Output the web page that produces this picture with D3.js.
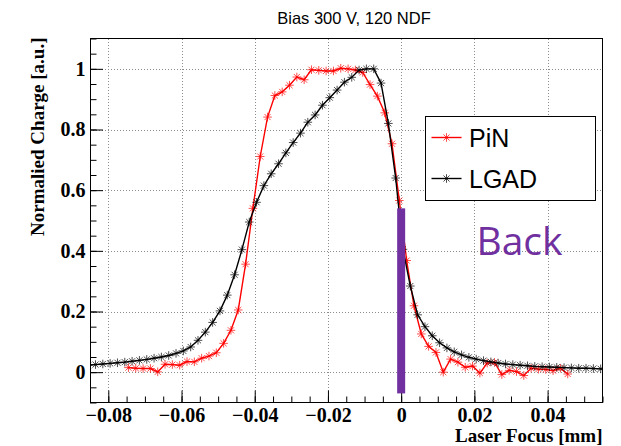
<!DOCTYPE html>
<html>
<head>
<meta charset="utf-8">
<script src="https://cdn.jsdelivr.net/npm/d3@7"></script>
<style>
  body { margin: 0; background: #fff; }
  svg { display: block; }
</style>
</head>
<body>
<div id="chart"></div>
<script>
const TITLE = "Bias 300 V, 120 NDF";
const X_LABEL = "Laser Focus [mm]";
const Y_LABEL = "Normalied Charge [a.u.]";
const X_TICKS = [-0.08, -0.06, -0.04, -0.02, 0, 0.02, 0.04];
const Y_TICKS = [0, 0.2, 0.4, 0.6, 0.8, 1];
const SERIES = ["PiN", "LGAD"];
const BACK_LABEL = "Back";
const BACK_BAR = [-0.07, 0.54]; // y extent of the marker bar drawn at x = 0

const pinX = [-0.0745, -0.0725, -0.0705, -0.0685, -0.0665, -0.0645, -0.0625, -0.0605, -0.0585, -0.0565,
  -0.0545, -0.0525, -0.0505, -0.0485, -0.0465, -0.0445, -0.0425, -0.0405, -0.0385, -0.0365,
  -0.0345, -0.0325, -0.0305, -0.0285, -0.0265, -0.0245, -0.0225, -0.0205, -0.0185, -0.0165,
  -0.0145, -0.0125, -0.0105, -0.0085, -0.0065, -0.0045, -0.0025, -0.0005, 0.0015, 0.0035,
  0.0055, 0.0075, 0.0095, 0.0115, 0.0135, 0.0155, 0.0175, 0.0195, 0.0215, 0.0235,
  0.0255, 0.0275, 0.0295, 0.0315, 0.0335, 0.0355, 0.0375, 0.0395, 0.0415, 0.0435, 0.0455];
const pinY = [0.015, 0.013, 0.012, 0.012, 0.001, 0.026, 0.025, 0.023, 0.035, 0.034,
  0.046, 0.053, 0.064, 0.095, 0.138, 0.205, 0.356, 0.540, 0.711, 0.841,
  0.912, 0.924, 0.946, 0.973, 0.964, 0.997, 0.995, 0.993, 0.993, 1.002,
  1.000, 0.996, 0.988, 0.948, 0.910, 0.855, 0.753, 0.566, 0.368, 0.219,
  0.126, 0.085, 0.065, 0.000, 0.043, 0.033, 0.016, 0.020, -0.003, 0.030,
  0.032, -0.008, 0.006, 0.002, -0.011, 0.013, 0.010, 0.009, 0.005, 0.013, -0.006];

const lgadX = [-0.0855, -0.0835, -0.0815, -0.0795, -0.0775, -0.0755, -0.0735, -0.0715, -0.0695, -0.0675,
  -0.0655, -0.0635, -0.0615, -0.0595, -0.0575, -0.0555, -0.0535, -0.0515, -0.0495, -0.0475,
  -0.0455, -0.0435, -0.0415, -0.0395, -0.0375, -0.0355, -0.0335, -0.0315, -0.0295, -0.0275,
  -0.0255, -0.0235, -0.0215, -0.0195, -0.0175, -0.0155, -0.0135, -0.0115, -0.0095, -0.0075,
  -0.0055, -0.0035, -0.0015, 0.0005, 0.0025, 0.0045, 0.0065, 0.0085, 0.0105, 0.0125,
  0.0145, 0.0165, 0.0185, 0.0205, 0.0225, 0.0245, 0.0265, 0.0285, 0.0305, 0.0325,
  0.0345, 0.0365, 0.0385, 0.0405, 0.0425, 0.0445, 0.0465, 0.0485, 0.0505, 0.0525,
  0.0545, 0.0565];
const lgadY = [0.023, 0.025, 0.027, 0.029, 0.031, 0.033, 0.036, 0.039, 0.042, 0.046,
  0.050, 0.055, 0.062, 0.070, 0.083, 0.105, 0.132, 0.164, 0.202, 0.254,
  0.321, 0.404, 0.495, 0.560, 0.615, 0.654, 0.687, 0.723, 0.757, 0.788,
  0.824, 0.848, 0.880, 0.905, 0.930, 0.956, 0.972, 0.996, 1.000, 1.000,
  0.953, 0.820, 0.640, 0.405, 0.284, 0.189, 0.150, 0.120, 0.097, 0.080,
  0.067, 0.057, 0.049, 0.043, 0.038, 0.034, 0.030, 0.027, 0.025, 0.023,
  0.021, 0.019, 0.018, 0.017, 0.016, 0.015, 0.014, 0.013, 0.013, 0.012,
  0.011, 0.010];

const W = 621, H = 446;
const margin = { top: 38.5, right: 18.5, bottom: 43.5, left: 90 };
const SERIF = "'Liberation Serif', 'Times New Roman', serif";
const SANS = "'Liberation Sans', Arial, Helvetica, sans-serif";
const PURPLE = "#7030a0";

const svg = d3.select("#chart").append("svg")
  .attr("width", W)
  .attr("height", H)
  .attr("viewBox", [0, 0, W, H]);

svg.append("rect").attr("width", W).attr("height", H).attr("fill", "#fff");

const x = d3.scaleLinear().domain([-0.085, 0.055]).range([margin.left, W - margin.right]);
const y = d3.scaleLinear().domain([-0.1, 1.1]).range([H - margin.bottom, margin.top]);
const [x0, x1] = x.range();
const [y0, y1] = y.range();

// dotted grid at the major ticks
const grid = svg.append("g")
  .attr("stroke", "#8c8c8c")
  .attr("stroke-dasharray", "1,2")
  .attr("shape-rendering", "crispEdges");
grid.selectAll(".gx").data(X_TICKS).join("line")
  .attr("x1", d => Math.round(x(d)) + 0.5).attr("x2", d => Math.round(x(d)) + 0.5)
  .attr("y1", y0).attr("y2", y1);
grid.selectAll(".gy").data(Y_TICKS).join("line")
  .attr("y1", d => Math.round(y(d)) + 0.5).attr("y2", d => Math.round(y(d)) + 0.5)
  .attr("x1", x0).attr("x2", x1);

// axes: ticks point into the frame
const fmt = d3.format("~g");
const minorX = d3.range(-17, 12).map(i => +(i * 0.005).toFixed(3));
const minorY = d3.range(-2, 23).map(i => +(i * 0.05).toFixed(2));

function styleLabels(g) {
  g.select(".domain").remove();
  g.attr("font-family", SERIF).attr("font-size", 20).attr("font-weight", "bold");
  g.selectAll("text")
    .attr("font-family", SERIF)
    .attr("font-size", 20)
    .attr("font-weight", "bold")
    .attr("fill", "#000");
}

svg.append("g").attr("transform", `translate(0,${y0})`)
  .call(d3.axisBottom(x).tickValues(minorX).tickSize(-6).tickFormat(""))
  .call(g => g.select(".domain").remove());
svg.append("g").attr("transform", `translate(0,${y0})`)
  .call(d3.axisBottom(x).tickValues(X_TICKS).tickSize(-12).tickPadding(5).tickFormat(fmt))
  .call(styleLabels);

svg.append("g").attr("transform", `translate(${x0},0)`)
  .call(d3.axisLeft(y).tickValues(minorY).tickSize(-6.5).tickFormat(""))
  .call(g => g.select(".domain").remove());
svg.append("g").attr("transform", `translate(${x0},0)`)
  .call(d3.axisLeft(y).tickValues(Y_TICKS).tickSize(-13).tickPadding(4.5).tickFormat(fmt))
  .call(styleLabels);

// curves, clipped to the frame
svg.append("clipPath").attr("id", "frame")
  .append("rect").attr("x", x0).attr("y", y1).attr("width", x1 - x0).attr("height", y0 - y1);

function star(r) {
  const d = r * Math.SQRT1_2;
  return `M${-r},0H${r}M0,${-r}V${r}M${-d},${-d}L${d},${d}M${-d},${d}L${d},${-d}`;
}

const line = d3.line().x(d => x(d[0])).y(d => y(d[1]));
const plot = svg.append("g").attr("clip-path", "url(#frame)");

function drawSeries(xs, ys, color) {
  const pts = d3.zip(xs, ys);
  const g = plot.append("g");
  g.append("path").datum(pts)
    .attr("d", line)
    .attr("fill", "none")
    .attr("stroke", color)
    .attr("stroke-width", 1.4);
  g.selectAll(".m").data(pts).join("path")
    .attr("transform", d => `translate(${x(d[0])},${y(d[1])})`)
    .attr("d", star(4.3))
    .attr("stroke", color)
    .attr("stroke-opacity", 0.7)
    .attr("stroke-width", 1);
}

drawSeries(pinX, pinY, "#ff0000");
drawSeries(lgadX, lgadY, "#000000");

// frame
svg.append("rect")
  .attr("x", x0).attr("y", y1)
  .attr("width", x1 - x0).attr("height", y0 - y1)
  .attr("fill", "none")
  .attr("stroke", "#000")
  .attr("shape-rendering", "crispEdges");

// purple "Back" marker bar
svg.append("rect")
  .attr("x", x(0) - 4)
  .attr("width", 8)
  .attr("y", y(BACK_BAR[1]))
  .attr("height", y(BACK_BAR[0]) - y(BACK_BAR[1]))
  .attr("fill", PURPLE);

svg.append("text")
  .attr("x", 476.5)
  .attr("y", 255)
  .attr("font-family", "'Open Sans', 'Noto Sans', sans-serif")
  .attr("font-size", 39)
  .attr("fill", PURPLE)
  .text(BACK_LABEL);

// legend
const legend = svg.append("g").attr("transform", "translate(425.5,116.5)");
legend.append("rect")
  .attr("width", 170).attr("height", 84)
  .attr("fill", "#fff")
  .attr("stroke", "#000")
  .attr("shape-rendering", "crispEdges");
const colors = ["#ff0000", "#000000"];
SERIES.forEach((name, i) => {
  const cy = 21 + i * 41;
  legend.append("line")
    .attr("x1", 6).attr("x2", 36).attr("y1", cy).attr("y2", cy)
    .attr("stroke", colors[i]).attr("stroke-width", 1.4);
  legend.append("path")
    .attr("transform", `translate(21,${cy})`)
    .attr("d", star(4.3))
    .attr("stroke", colors[i]).attr("stroke-opacity", 0.7);
  legend.append("text")
    .attr("x", 43.5).attr("y", cy)
    .attr("dy", "0.36em")
    .attr("font-family", SANS)
    .attr("font-size", 25)
    .attr("fill", "#000")
    .text(name);
});

// titles
svg.append("text")
  .attr("x", 354).attr("y", 24)
  .attr("text-anchor", "middle")
  .attr("font-family", SANS)
  .attr("font-size", 16.5)
  .text(TITLE);

svg.append("text")
  .attr("x", x1).attr("y", 442)
  .attr("text-anchor", "end")
  .attr("font-family", SERIF)
  .attr("font-size", 19)
  .attr("font-weight", "bold")
  .text(X_LABEL);

svg.append("text")
  .attr("transform", `translate(44,${y1 - 1}) rotate(-90)`)
  .attr("text-anchor", "end")
  .attr("font-family", SERIF)
  .attr("font-size", 19)
  .attr("font-weight", "bold")
  .text(Y_LABEL);
</script>
</body>
</html>
